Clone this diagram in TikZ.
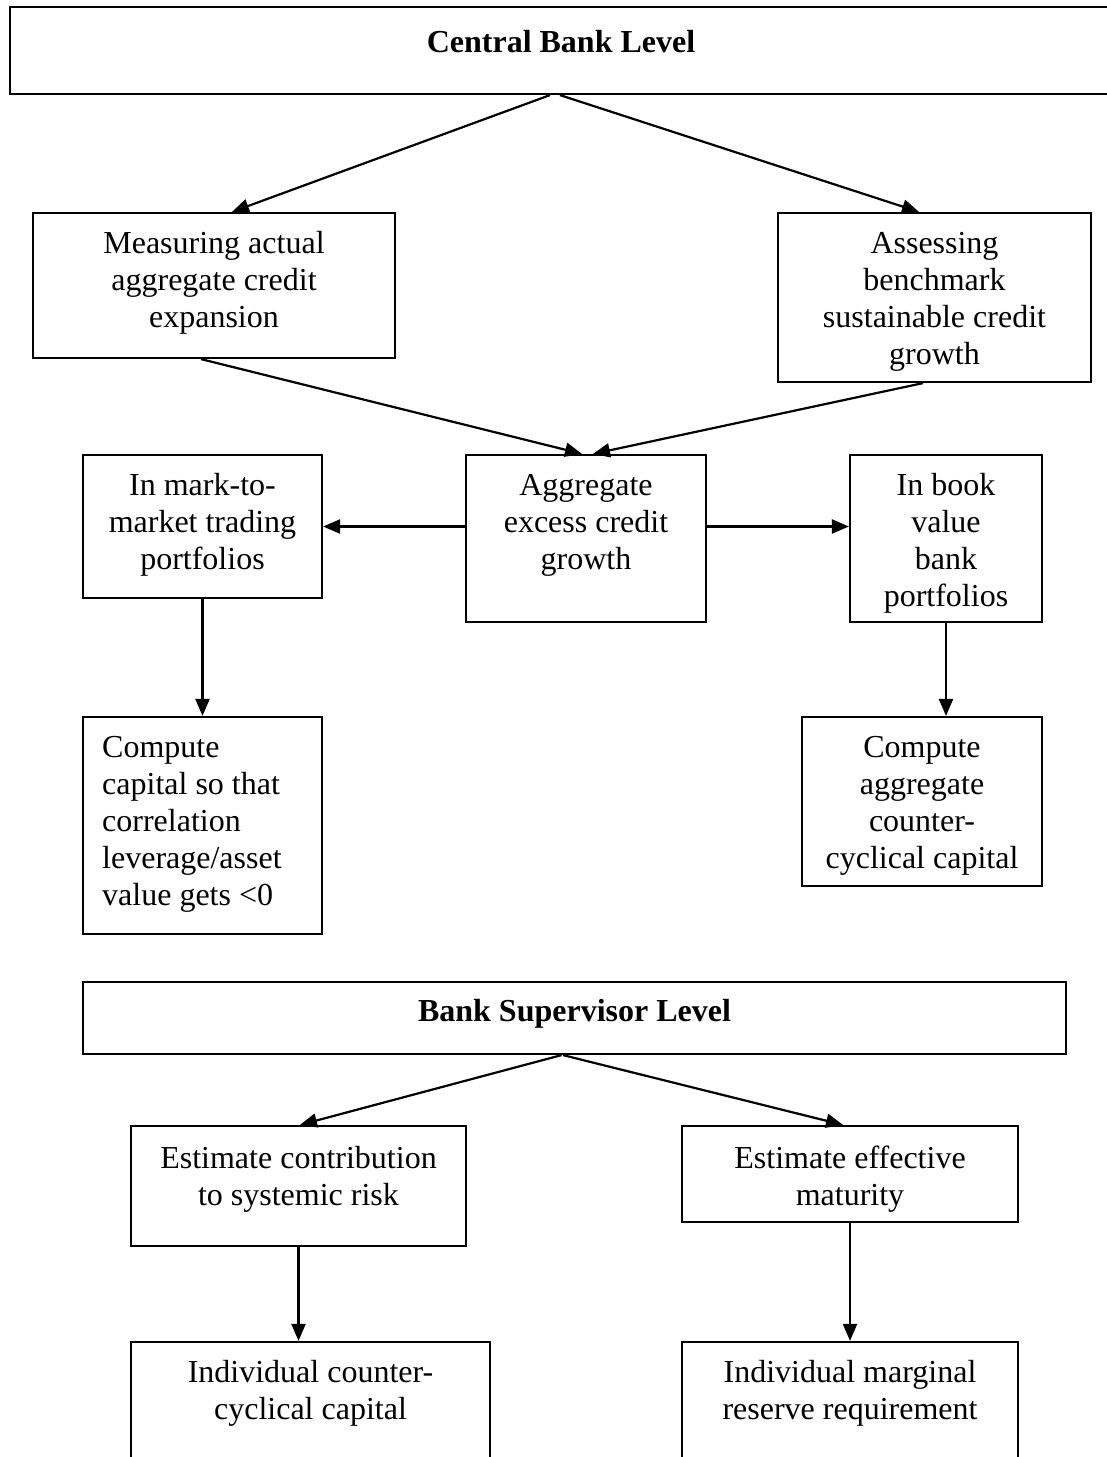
\documentclass[tikz,border=0pt]{standalone}
\usepackage{fontspec}
\setmainfont{Liberation Serif}
\usetikzlibrary{arrows.meta}
\begin{document}
\begin{tikzpicture}[x=1pt,y=-1pt,
  box/.style={draw=black, line width=2.2pt, rectangle, inner sep=0pt},
  txt/.style={inner sep=0pt, align=center, anchor=north, font=\fontsize{32}{37}\selectfont},
  txtl/.style={inner sep=0pt, align=left, anchor=north west, font=\fontsize{32}{37}\selectfont},
  conn/.style={line width=2.2pt, -{Triangle[length=17pt,width=14pt]}}
]
\useasboundingbox (0,0) rectangle (1107,1457);
% boxes
\node[box, minimum width=1102pt, minimum height=87pt] (cb) at (561,50.5) {};
\node[txt] (cbt) at (561,26) {\strut\bfseries Central Bank Level};

\node[box, minimum width=362pt, minimum height=145pt] (meas) at (214,285.5) {};
\node[txt] (meast) at (214,227.1) {\strut Measuring actual\\aggregate credit\\expansion};

\node[box, minimum width=313pt, minimum height=169pt] (assess) at (934.5,297.5) {};
\node[txt] (assesst) at (934.5,227.1) {\strut Assessing\\benchmark\\sustainable credit\\growth};

\node[box, minimum width=239pt, minimum height=143pt] (mtm) at (202.5,526.5) {};
\node[txt] (mtmt) at (202.5,469.1) {\strut In mark-to-\\market trading\\portfolios};

\node[box, minimum width=240pt, minimum height=167pt] (agg) at (586,538.5) {};
\node[txt] (aggt) at (586,469.1) {\strut Aggregate\\excess credit\\growth};

\node[box, minimum width=192pt, minimum height=167pt] (book) at (946,538.5) {};
\node[txt] (bookt) at (946,469.1) {\strut In book\\value\\bank\\portfolios};

\node[box, minimum width=239pt, minimum height=217pt] (cmpa) at (202.5,825.5) {};
\node[txtl] (cmpat) at (102,731.1) {\strut Compute\\capital so that\\correlation\\leverage/asset\\value gets <0};

\node[box, minimum width=240pt, minimum height=169pt] (cmpb) at (922,801.5) {};
\node[txt] (cmpbt) at (922,731.1) {\strut Compute\\aggregate\\counter-\\cyclical capital};

\node[box, minimum width=983pt, minimum height=72pt] (bs) at (574.5,1018) {};
\node[txt] (bst) at (574.5,995) {\strut\bfseries Bank Supervisor Level};

\node[box, minimum width=335pt, minimum height=120pt] (esta) at (298.5,1186) {};
\node[txt] (estat) at (298.5,1142.1) {\strut Estimate contribution\\to systemic risk};

\node[box, minimum width=336pt, minimum height=96pt] (estb) at (850,1174) {};
\node[txt] (estbt) at (850,1142.1) {\strut Estimate effective\\maturity};

\node[box, minimum width=359pt, minimum height=138pt] (inda) at (310.5,1411) {};
\node[txt] (indat) at (310.5,1356.1) {\strut Individual counter-\\cyclical capital};

\node[box, minimum width=336pt, minimum height=138pt] (indb) at (850,1411) {};
\node[txt] (indbt) at (850,1356.1) {\strut Individual marginal\\reserve requirement};

% connectors
\draw[conn] ([xshift=-11pt]cb.south) -- ([xshift=18pt]meas.north);
\draw[conn] ([xshift=-1pt]cb.south) -- ([xshift=-15.5pt]assess.north);
\draw[conn] ([xshift=-13pt]meas.south) -- ([xshift=-4pt]agg.north);
\draw[conn] ([xshift=-11.5pt]assess.south) -- ([xshift=7pt]agg.north);
\draw[conn] (agg.west |- mtm.east) -- (mtm.east);
\draw[conn] (agg.east |- mtm.east) -- (book.west |- mtm.east);
\draw[conn] (mtm.south) -- (cmpa.north);
\draw[conn] (book.south) -- (book.south |- cmpb.north);
\draw[conn] ([xshift=-13pt]bs.south) -- ([xshift=1.5pt]esta.north);
\draw[conn] ([xshift=-11.5pt]bs.south) -- ([xshift=-7pt]estb.north);
\draw[conn] (esta.south) -- (esta.south |- inda.north);
\draw[conn] (estb.south) -- (indb.north);
\end{tikzpicture}
\end{document}
